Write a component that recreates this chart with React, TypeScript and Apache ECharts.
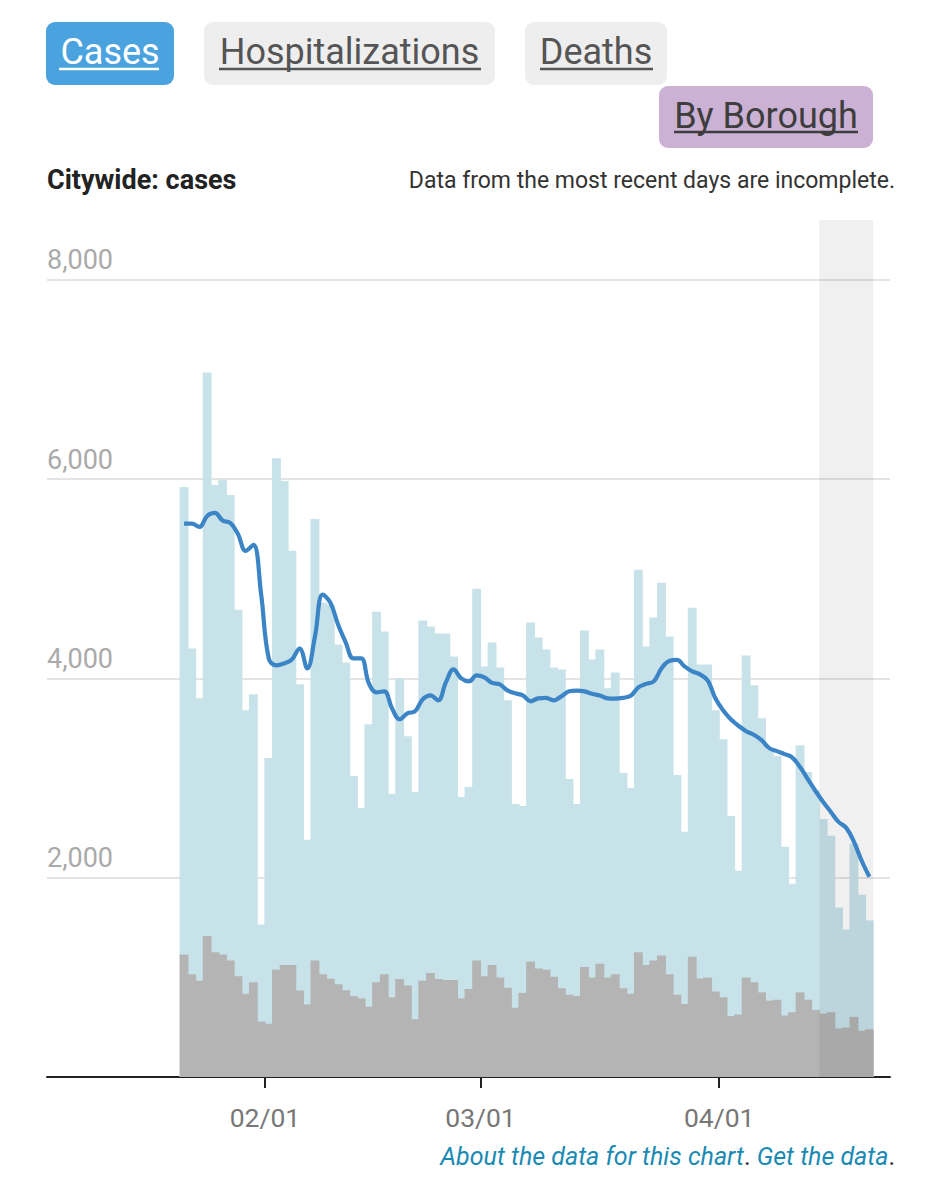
import React, { useEffect, useRef } from 'react';
import * as echarts from 'echarts';

// ---- Data ----
const firstDate = '2021-01-21'; // first bar

const totalCases = [
  5920, 4300, 3800, 7070, 5940, 5995, 5840, 4690, 3680, 3840,
  1530, 3200, 6210, 5980, 5280, 3940, 2380, 5600, 4760, 4740,
  4340, 4160, 3020, 2700, 3540, 4670, 4470, 2840, 4000, 3420,
  2860, 4580, 4520, 4450, 4450, 4220, 2810, 2910, 4900, 4120,
  4360, 4110, 3780, 2740, 2720, 4560, 4410, 4290, 4110, 4090,
  2990, 2740, 4480, 4190, 4290, 3900, 4060, 3050, 2900, 5090,
  4320, 4610, 4960, 4420, 3030, 2460, 4710, 4140, 4140, 3680,
  3390, 2620, 2070, 4230, 3930, 3600, 3290, 3220, 2310, 1940,
  3330, 3060, 2880, 2590, 2420, 1700, 1480, 2340, 1830, 1570,
];

const grayCases = [
  1230, 1030, 965, 1415, 1253, 1230, 1170, 1012, 835, 951,
  557, 534, 1076, 1123, 1123, 868, 728, 1169, 1030, 985,
  930, 870, 812, 789, 705, 951, 1030, 798, 984, 919,
  580, 965, 1044, 984, 974, 974, 789, 882, 1169, 1012,
  1123, 998, 896, 696, 844, 1160, 1090, 1076, 1007, 891,
  826, 812, 1104, 998, 1137, 998, 1030, 891, 835, 1253,
  1123, 1169, 1220, 1030, 826, 733, 1206, 988, 998, 858,
  800, 612, 626, 998, 951, 849, 766, 775, 617, 650,
  849, 775, 673, 636, 650, 487, 496, 603, 464, 478,
];

const avgCases = [
  5553, 5553, 5520, 5630, 5660, 5585, 5560, 5450, 5280, 5340,
  4850, 4200, 4130, 4150, 4190, 4300, 4100, 4420, 4840, 4760,
  4540, 4360, 4200, 4200, 3950, 3860, 3870, 3700, 3590, 3650,
  3670, 3790, 3830, 3780, 3960, 4090, 4000, 3970, 4030, 4010,
  3955, 3940, 3880, 3850, 3830, 3770, 3800, 3805, 3780, 3820,
  3870, 3878, 3870, 3845, 3828, 3800, 3797, 3805, 3825, 3910,
  3945, 3970, 4100, 4175, 4185, 4120, 4070, 4040, 3980, 3800,
  3680, 3590, 3525, 3470, 3435, 3380, 3300, 3270, 3240, 3205,
  3110, 2990, 2870, 2760, 2660, 2560, 2500, 2360, 2170, 2010,
];

const xTickDates = ['2021-02-01', '2021-03-01', '2021-04-01'];
const yTickValues = [2000, 4000, 6000, 8000];
const incompleteRange = ['2021-04-14', '2021-04-21'];
const xRange = ['2021-01-03T16:48:00Z', '2021-04-23T04:20:00Z'];
const yMax = 8600;

const buttons = [
  { label: 'Cases', x: 46, y: 22, w: 128, h: 63, bg: '#4aa2de', fg: '#ffffff' },
  { label: 'Hospitalizations', x: 204, y: 22, w: 291, h: 63, bg: '#eeeeee', fg: '#555555' },
  { label: 'Deaths', x: 525, y: 22, w: 142, h: 63, bg: '#eeeeee', fg: '#555555' },
  { label: 'By Borough', x: 659, y: 86, w: 214, h: 62, bg: '#cbb2d5', fg: '#3d3d3d' },
];

const DAY_MS = 86400000;
// dates as a number of days since 1970-01-01 (UTC)
const toDays = (s: string) => Date.parse(s.length === 10 ? s + 'T00:00:00Z' : s) / DAY_MS;
const fmtDay = (d: number) => {
  const dt = new Date(Math.round(d * DAY_MS));
  const mm = String(dt.getUTCMonth() + 1).padStart(2, '0');
  const dd = String(dt.getUTCDate()).padStart(2, '0');
  return mm + '/' + dd;
};

export default function App() {
  const ref = useRef<HTMLDivElement>(null);

  useEffect(() => {
    if (!ref.current) return;
    const chart = echarts.init(ref.current, null, { renderer: 'svg' });

    const first = toDays(firstDate);
    // each day's bar is centred at noon of that day
    const dayCenter = (i: number) => first + i + 0.5;
    const totalData = totalCases.map((v, i) => [dayCenter(i), v]);
    const grayData = grayCases.map((v, i) => [dayCenter(i), v]);
    const avgData = avgCases.map((v, i) => [dayCenter(i), v]);
    const monthTicks = xTickDates.map(toDays);
    const font = 'Roboto';
    const blue = '#c8e2ea';
    const gray = '#b4b4b4';

    const buttonGraphics: any[] = [];
    buttons.forEach((b) => {
      buttonGraphics.push({
        type: 'rect',
        shape: { x: b.x, y: b.y, width: b.w, height: b.h, r: 9 },
        style: { fill: b.bg },
      });
      buttonGraphics.push({
        type: 'text',
        x: b.x + b.w / 2,
        y: b.y + 30,
        style: {
          text: b.label,
          fill: b.fg,
          fontSize: 36,
          fontFamily: font,
          align: 'center',
          verticalAlign: 'middle',
        },
      });
    });
    const underlines = [
      { x1: 59, x2: 159, y: 69, c: '#ffffff' },
      { x1: 219, x2: 481, y: 69, c: '#555555' },
      { x1: 540, x2: 653, y: 69, c: '#555555' },
      { x1: 674, x2: 858, y: 132, c: '#3d3d3d' },
    ];
    underlines.forEach((u) => {
      buttonGraphics.push({
        type: 'line',
        shape: { x1: u.x1, y1: u.y, x2: u.x2, y2: u.y },
        style: { stroke: u.c, lineWidth: 2.5 },
      });
    });

    const option: any = {
      animation: false,
      backgroundColor: '#ffffff',
      textStyle: { fontFamily: font },
      grid: {
        left: 47,
        right: 50,
        top: 220,
        bottom: 123,
        containLabel: false,
        outerBoundsMode: 'none',
      },
      xAxis: {
        type: 'value',
        min: toDays(xRange[0]),
        max: toDays(xRange[1]),
        axisLine: { show: true, onZero: false, lineStyle: { color: '#222222', width: 2 } },
        axisTick: {
          show: true,
          customValues: monthTicks,
          length: 11,
          lineStyle: { color: '#222222', width: 2 },
        },
        axisLabel: {
          show: true,
          customValues: monthTicks,
          color: '#777777',
          fontSize: 26.5,
          fontFamily: font,
          margin: 27,
          formatter: (v: number) => fmtDay(v),
        },
        splitLine: { show: false },
        minorTick: { show: false },
      },
      yAxis: {
        type: 'value',
        min: 0,
        max: yMax,
        interval: 2000,
        axisLine: { show: false },
        axisTick: { show: false },
        axisLabel: {
          inside: true,
          margin: 0,
          align: 'left',
          verticalAlign: 'bottom',
          padding: [0, 0, 6, 0],
          color: '#aaaaaa',
          fontSize: 27,
          fontFamily: font,
          formatter: (v: number) =>
            yTickValues.indexOf(v) >= 0 ? v.toLocaleString('en-US') : '',
        },
        splitLine: {
          show: true,
          lineStyle: {
            color: ['rgba(0,0,0,0)', '#e4e4e4', '#e4e4e4', '#e4e4e4', '#e4e4e4', 'rgba(0,0,0,0)'],
            width: 2,
          },
        },
      },
      series: [
        {
          name: 'All cases',
          type: 'bar',
          data: totalData,
          barWidth: '115%',
          barGap: '-100%',
          itemStyle: { color: blue, borderWidth: 0 },
          z: 2,
        },
        {
          name: 'Confirmed',
          type: 'bar',
          data: grayData,
          barWidth: '115%',
          barGap: '-100%',
          itemStyle: { color: gray, borderWidth: 0 },
          z: 2,
        },
        {
          name: '7-day average',
          type: 'line',
          data: avgData,
          smooth: 0.4,
          showSymbol: false,
          symbol: 'none',
          lineStyle: { color: '#3b84c6', width: 4.2 },
          z: 5,
          markArea: {
            silent: true,
            z: 3,
            itemStyle: { color: 'rgba(0,0,0,0.06)' },
            data: [[{ xAxis: toDays(incompleteRange[0]) }, { xAxis: toDays(incompleteRange[1]) }]],
          },
        },
      ],
      graphic: [
        ...buttonGraphics,
        {
          type: 'text',
          x: 47,
          y: 180,
          style: {
            text: 'Citywide: cases',
            fill: '#222222',
            fontSize: 27,
            fontWeight: 'bold',
            fontFamily: font,
            align: 'left',
            verticalAlign: 'middle',
          },
        },
        {
          type: 'text',
          x: 895,
          y: 180,
          style: {
            text: 'Data from the most recent days are incomplete.',
            fill: '#333333',
            fontSize: 23,
            fontFamily: font,
            align: 'right',
            verticalAlign: 'middle',
          },
        },
        {
          type: 'text',
          x: 895,
          y: 1156,
          style: {
            text: '{a|About the data for this chart}{b|.} {a|Get the data}{b|.}',
            align: 'right',
            verticalAlign: 'middle',
            fontSize: 25,
            fontFamily: font,
            rich: {
              a: { fill: '#1a8ab3', fontSize: 25, fontStyle: 'italic', fontFamily: font },
              b: { fill: '#333333', fontSize: 25, fontFamily: font },
            },
          },
        },
      ],
    };

    chart.setOption(option);
    return () => chart.dispose();
  }, []);

  return (
    <div
      ref={ref}
      style={{ position: 'absolute', left: 0, top: 0, width: 940, height: 1200, background: '#fff' }}
    />
  );
}
